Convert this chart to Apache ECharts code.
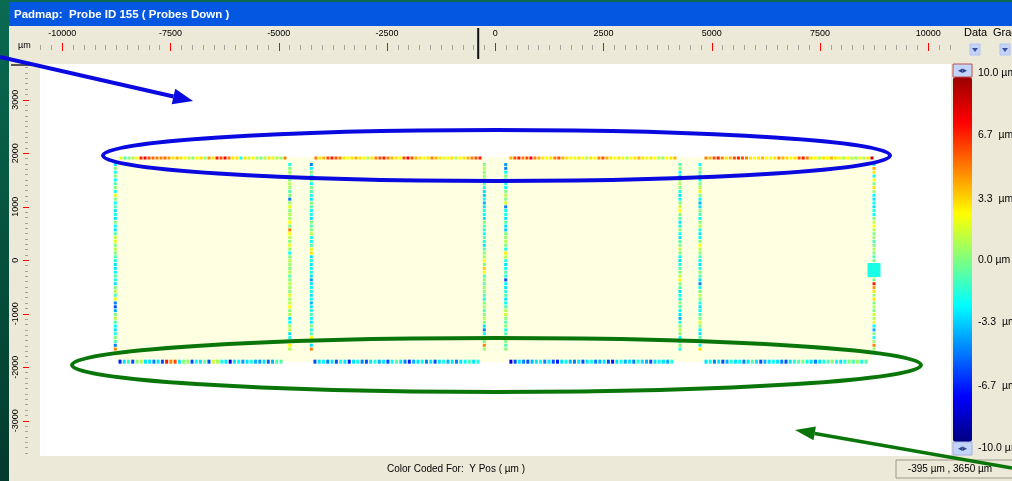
<!DOCTYPE html>
<html>
<head>
<meta charset="utf-8">
<script src="https://cdn.jsdelivr.net/npm/echarts@6/dist/echarts.min.js"></script>
<style>
html,body{margin:0;padding:0;background:#ECE9D8;overflow:hidden;}
#main{width:1012px;height:481px;}
</style>
</head>
<body>
<div id="main"></div>
<script>
// pad layout (µm): left / right pad column of each of the 4 blocks
var blockLeftX  = [-8776, -4249, 240, 4727];
var blockRightX = [-4748, -254, 4266, 8746];
var topRowFrom    = [-8644, -4143, 360, 4866];
var topRowTo      = [-4857, -353, 4148, 8700];
var bottomRowFrom = [-8667, -4166, 360, 4866];
var bottomRowTo   = [-4949, -400, 4079, 8561];
var topRowY = 1912, bottomRowY = -1895, colTopY = 1790, colBottomY = -1660;

// measured Y position error per pad (µm), null = no pad
var block1Top = [2,-1,0,1,2.5,7,7.5,6,5.5,5,5,5.5,4.5,3,4,3,2.5,1,0.5,2.5,3,0.5,4.5,3,7,6,7.5,5,3,3,-2,3,1.5,2.5,0.5,0,1,3,2,1,0.5,5];
var block2Top = [5,3,4,6,7,6,5,3,2.5,3,4,3,2.5,1,3,5,6,7,5,4,3,2.5,6,7.5,6,4,3,2.5,3,5,4,3,2,2.5,3,1,2.5,3,4,5,6,7];
var block3Top = [4,6,7,5,6,7.5,5,4,3,2.5,3,5,6,4,3,2.5,2,3,2.5,1,3,2.5,5,6,4,3,2.5,3,2,1,2.5,3,4,3,2,3,2.5,1,0.5,2.5,3,4];
var block4Top = [5,4,6,7,5,3,4,6,7,6,5,3,2.5,3,4,2.5,2,3,5,4,3,2.5,3,6,7,5,3,2.5,1,3,2.5,4,3,2,1,2.5,1,0.5,2,1,3,9];

var block1Bottom = [-7,-3,-1.5,-6,0,1,-3,-3,-5,-3,-6,7,5,6,-3,0,0.5,-6,-2.5,-3,-0.5,-6,1.5,1,-2,-3,-8,-3,-2.5,-4.5,-3,-2,-4,-4.5,-3,-5.5,-4,-1,-1];
var block2Bottom = [-6,-3,-2.5,-5,-3,-6,-2,-3,-7,-3,-2.5,-5,-6,-3,-2,-4,-3,-6,-2.5,-1,-3,-5,-7,-4,-3,-2.5,-5,-3,-6,-3,-2,-4,-3,-5,-3,-2.5,-1,-3,-2];
var block3Bottom = [-8,-6,-3,-5,-6,-4,-3,-2.5,-5,-3,-6,-7,-3,-2.5,-4,-5,-3,-6,-3,-2,-5,-4,-3,-6,-7,-3,-2.5,-4,-3,-5,-2,-3,-4,-6,-3,-2.5,-3,-4,-2];
var block4Bottom = [-3,-2.5,-5,-3,-6,-4,-2,-3,-2.5,-5,-3,-1,-3,-6,-4,-3,-2.5,-3,-5,-6,-3,-2,-1,0,-2.5,-3,-5,-3,-2,-1,0,-2.5,-3,-2,0,-1,0.5,-2,-1];

var block1Left  = [-3,0,-2,0,-2.5,-1,0,-2,2,0,-2.5,-1,-3,-2,-3,0,-2.5,-3,-1,1.5,2,0,1,0,-1,-2,-3,-3,-2.5,-1,-2,-3,0,1,-1,2,-5,-6,-4,0,1,-1,-2.5,-3,-2,0,-1,-5,5];
var block1Right = [-2,0,0.5,1,0,1,0.5,-1,0,-5,0.5,2,0,1,0.5,2.5,0,5,2.5,1,0,2,0.5,-2.5,0,1,0.5,0,1,-1,0,1,0.5,0,2,0.5,1,2.5,0,1,-3,-2.5,0.5,1,-3,-2,0,2.5,1];
var block2Left  = [-5,-2.5,0,-2,0,-2.5,0,-1,-2,-3,0,-1,-2.5,-2,-3,0,-1,0,1,-2,-2.5,-1,2,3,-3,-2,-3,-2.5,-2,-3,-4.5,-3,-2.5,-2,-3,-2.5,-4,-3,-2,-1,-2.5,-3,0,-2,-1,2.5,1,-3,5];
var block2Right = [0,1,0,0.5,0,-1,-2,-3,-3.5,-2.5,-4,-3,-2,-2.5,-3,0,-1,-2,-2.5,-1,-2,-3,-1,0,0.5,2.5,0,3.5,2.5,-1,0,-1,0.5,0,-1,-2,0,0.5,-1,0,1,0,-3,-5,-2.5,1,0,5,0.5];
var block3Left  = [-4.5,-5,-2.5,0,-1,-2,-2.5,0,1,0,1.5,-5,-2.5,-2,-3,-1,-3,-3.5,0,0.5,1,0,-2,3,1,-2,-3,-2.5,-1,-2,-6,-2.5,-3,-2,-1,-3,-2.5,-1,1,1.5,0,-1,0,-2,-1,-3,0,-1,0];
var block3Right = [-1,0,-2.5,-3,0,1,0,-2,-3,-2.5,0,1.5,2.5,0,-1,-3,-2,0,-2.5,-3,-1,0,1,0,-2.5,-3,-2,-1,0,1,2.5,0,-1,-3,-2.5,-2,0,-1,-2.5,-3,-4,-2,0,1,0,-2.5,-3,0,-2];
var block4Left  = [-2.5,0,-1,-3,-2,0,1,2,0,-2.5,-4,-3,0,-1,-2.5,0,1,-2,-3,-2.5,0,2.5,1,0,-1,-2.5,-3,-2,0,-1,-3,-5,-2.5,0,1,0,-2,-3,-2.5,-1,0,1.5,0,-2.5,-3,-1,0,-2,3];
var block4Right = [-2,4,3,-2,2.5,0,3,0.5,-2.5,-3,-2.5,-3,-2,-2.5,0,1.5,2.5,1,0,0.5,-1,0,1,0,-1,0,null,null,null,1.5,0,7,4.5,3,0.5,3,0,1,0,1.5,1,2,-2.5,-4,0,-2,0.5,5,0.5];

var selectedPad = [[8746, -182, -2]];

var xMajorTicks = [-10000, -7500, -5000, -2500, 0, 2500, 5000, 7500, 10000];
var yMajorTicks = [-3000, -2000, -1000, 0, 1000, 2000, 3000];
var scaleValues = [10, 6.7, 3.3, 0, -3.3, -6.7, -10];
var scaleLabels = ['10.0 µm', '6.7  µm', '3.3  µm', '0.0 µm', '-3.3  µm', '-6.7  µm', '-10.0 µm'];
var cursorPos = [-395, 3650];

var xMin = -10515, xMax = 10524, yMin = -3658, yMax = 3669;
var xMinorTicks = [], yMinorTicks = [];
for (var t = -10500; t <= 10500; t += 250) xMinorTicks.push(t);
for (var u = -3600; u <= 3600; u += 100) yMinorTicks.push(u);

function rowPoints(vals, x0, x1, y) {
    var out = [];
    vals.forEach(function (v, i) {
        if (v != null) out.push([x0 + (x1 - x0) * i / (vals.length - 1), y, v]);
    });
    return out;
}
function colPoints(vals, x, y0, y1) {
    var out = [];
    vals.forEach(function (v, i) {
        if (v != null) out.push([x, y0 + (y1 - y0) * i / (vals.length - 1), v]);
    });
    return out;
}

var tops = [block1Top, block2Top, block3Top, block4Top];
var bottoms = [block1Bottom, block2Bottom, block3Bottom, block4Bottom];
var lefts = [block1Left, block2Left, block3Left, block4Left];
var rights = [block1Right, block2Right, block3Right, block4Right];
var topData = [], bottomData = [], colData = [];
for (var b = 0; b < 4; b++) {
    topData = topData.concat(rowPoints(tops[b], topRowFrom[b], topRowTo[b], topRowY));
    bottomData = bottomData.concat(rowPoints(bottoms[b], bottomRowFrom[b], bottomRowTo[b], bottomRowY));
    colData = colData.concat(colPoints(lefts[b], blockLeftX[b], colTopY, colBottomY));
    colData = colData.concat(colPoints(rights[b], blockRightX[b], colTopY, colBottomY));
}

var FONT = 'Liberation Sans';
var jet = ['#00007f', '#0000ff', '#007fff', '#00ffff', '#7fff7f', '#ffff00', '#ff7f00', '#ff0000', '#9a0000'];

var myChart = echarts.init(document.getElementById('main'));

function padSeries(data, size) {
    return {
        type: 'scatter', xAxisIndex: 0, yAxisIndex: 0, data: data,
        symbol: 'rect', symbolSize: size, z: 5, silent: true,
        itemStyle: { opacity: 1 }, emphasis: { disabled: true }
    };
}
function plain(v) { return String(v); }
var noLine = { show: false, onZero: false };

myChart.setOption({
    animation: false,
    grid: [
        { left: 40, top: 64, width: 911, height: 392, show: false, containLabel: false, outerBoundsMode: 'none' },
        { left: 953, top: 73, width: 19, height: 375, show: false, containLabel: false, outerBoundsMode: 'none' }
    ],
    xAxis: [
        { gridIndex: 0, type: 'value', min: xMin, max: xMax, position: 'top', offset: 14,
          axisLine: noLine, splitLine: { show: false },
          axisTick: { show: true, customValues: xMinorTicks, length: 5, lineStyle: { color: '#a4a4a4' } },
          axisLabel: { show: false } },
        { gridIndex: 0, type: 'value', min: xMin, max: xMax, position: 'top', offset: 13,
          axisLine: noLine, splitLine: { show: false },
          axisTick: { show: true, customValues: xMajorTicks, length: 8, lineStyle: { color: '#ff0000' } },
          axisLabel: { customValues: xMajorTicks, margin: 13, fontSize: 9, fontFamily: FONT, color: '#000', formatter: plain } },
        { gridIndex: 1, type: 'value', min: 0, max: 1, show: false, axisLine: noLine }
    ],
    yAxis: [
        { gridIndex: 0, type: 'value', min: yMin, max: yMax, position: 'left', offset: 12,
          axisLine: noLine, splitLine: { show: false },
          axisTick: { show: true, customValues: yMinorTicks, length: 3, lineStyle: { color: '#a4a4a4' } },
          axisLabel: { show: false } },
        { gridIndex: 0, type: 'value', min: yMin, max: yMax, position: 'left', offset: 11,
          axisLine: noLine, splitLine: { show: false },
          axisTick: { show: true, customValues: yMajorTicks, length: 6, lineStyle: { color: '#ff0000' } },
          axisLabel: { customValues: yMajorTicks, rotate: 90, margin: 9, fontSize: 9, fontFamily: FONT, color: '#000', formatter: plain } },
        { gridIndex: 1, type: 'value', min: -10, max: 10, position: 'right',
          axisLine: noLine, splitLine: { show: false }, axisTick: { show: false },
          axisLabel: { customValues: scaleValues, margin: 6, fontSize: 10.5, fontFamily: FONT, color: '#000',
              formatter: function (v) {
                  var i = scaleValues.indexOf(v);
                  return i >= 0 ? scaleLabels[i] : '';
              } } }
    ],
    visualMap: {
        type: 'continuous', min: -10, max: 10, dimension: 2, seriesIndex: [1, 2, 3, 4],
        calculable: false, hoverLink: false, left: 953, top: 77, itemWidth: 19, itemHeight: 365,
        padding: 0, inRange: { color: jet }
    },
    series: [
        { type: 'scatter', xAxisIndex: 0, yAxisIndex: 0, data: [], z: 1, silent: true,
          markArea: { silent: true, itemStyle: { color: '#ffffe1' },
                      data: [[{ coord: [-8800, 1925] }, { coord: [8700, -1900] }]] } },
        padSeries(topData, [3, 3]),
        padSeries(bottomData, [3, 4]),
        padSeries(colData, [3, 3]),
        padSeries(selectedPad, [13, 14])
    ]
});

// window chrome and annotations
var cx = myChart.convertToPixel({ xAxisIndex: 0 }, cursorPos[0]);
var cy = myChart.convertToPixel({ yAxisIndex: 0 }, cursorPos[1]);

function arrow(x0, y0, x1, y1, color, w, len, half) {
    var dx = x1 - x0, dy = y1 - y0, d = Math.sqrt(dx * dx + dy * dy);
    var ux = dx / d, uy = dy / d;
    var bx = x1 - ux * len, by = y1 - uy * len;
    return [
        { type: 'line', z: 100, shape: { x1: x0, y1: y0, x2: bx, y2: by }, style: { stroke: color, lineWidth: w } },
        { type: 'polygon', z: 100, shape: { points: [[x1, y1], [bx - uy * half, by + ux * half], [bx + uy * half, by - ux * half]] },
          style: { fill: color } }
    ];
}
function txt(text, x, y, font, align, fill) {
    return { type: 'text', z: 50, x: x, y: y,
             style: { text: text, font: font, textAlign: align || 'left', textVerticalAlign: 'middle', fill: fill || '#000' } };
}
var y0b = 48;
function dropBtn(x) {
    return [
        { type: 'rect', z: 50, shape: { x: x, y: 44, width: 10, height: 11 }, style: { fill: '#c3d4fb', stroke: '#b0c4f0' } },
        { type: 'polygon', z: 51, shape: { points: [[x + 2, y0b], [x + 8, y0b], [x + 5, y0b + 4]] }, style: { fill: '#3a4f9a' } }
    ];
}

var elems = [
    { type: 'rect', z: -100, shape: { x: 0, y: 0, width: 1012, height: 481 }, style: { fill: '#ECE9D8' } },
    { type: 'rect', z: -99, shape: { x: 0, y: 0, width: 9, height: 481 },
      style: { fill: new echarts.graphic.LinearGradient(0, 0, 0, 1, [{ offset: 0, color: '#0a6a52' }, { offset: 1, color: '#033a2b' }]) } },
    { type: 'rect', z: -99, shape: { x: 0, y: 0, width: 1012, height: 2 }, style: { fill: '#0b6a50' } },
    { type: 'rect', z: -98, shape: { x: 9, y: 2, width: 1003, height: 24 }, style: { fill: '#0457e0' } },
    { type: 'rect', z: -98, shape: { x: 40, y: 64, width: 911, height: 392 }, style: { fill: '#ffffff' } },
    txt('Padmap:  Probe ID 155 ( Probes Down )', 14, 15, 'bold 11.5px ' + FONT, 'left', '#ffffff'),
    txt('µm', 18, 46, '9px ' + FONT),
    txt('Data', 964, 33, '11px ' + FONT),
    txt('Grad', 993, 33, '11px ' + FONT),
    { type: 'rect', z: 50, shape: { x: cx - 1, y: 28, width: 2, height: 31 }, style: { fill: '#111111' } },
    { type: 'rect', z: 50, shape: { x: 11, y: cy - 1, width: 28, height: 2 }, style: { fill: '#555555' } },
    // colour scale end buttons
    { type: 'rect', z: 50, shape: { x: 953, y: 64, width: 19, height: 13 }, style: { fill: '#c3d4fb', stroke: '#c05050' } },
    txt('◂▸', 962.5, 70.5, '9px DejaVu Sans', 'center', '#2a3f8a'),
    { type: 'rect', z: 50, shape: { x: 953, y: 442, width: 19, height: 13 }, style: { fill: '#c3d4fb', stroke: '#9fb3e0' } },
    txt('◂▸', 962.5, 448.5, '9px DejaVu Sans', 'center', '#2a3f8a'),
    // status bar
    txt('Color Coded For:  Y Pos ( µm )', 456, 469, '10px ' + FONT, 'center'),
    { type: 'rect', z: 50, shape: { x: 896, y: 460, width: 118, height: 18 }, style: { fill: '#ECE9D8', stroke: '#9d9a8c' } },
    txt('-395 µm , 3650 µm', 950, 469, '10px ' + FONT, 'center'),
    // annotations
    { type: 'ellipse', z: 100, shape: { cx: 496.5, cy: 155.5, rx: 393.5, ry: 25.5 }, style: { fill: null, stroke: '#0a0ae0', lineWidth: 4 } },
    { type: 'ellipse', z: 100, shape: { cx: 496.5, cy: 365, rx: 424.5, ry: 27 }, style: { fill: null, stroke: '#0a760a', lineWidth: 4 } }
];
elems = elems.concat(dropBtn(970), dropBtn(1000));
elems = elems.concat(arrow(0, 57, 193, 101, '#0a0ae0', 4, 20, 8));
elems = elems.concat(arrow(1012, 468, 795, 430, '#0a760a', 3.5, 20, 7));

myChart.setOption({ graphic: { elements: elems } });
</script>
</body>
</html>
